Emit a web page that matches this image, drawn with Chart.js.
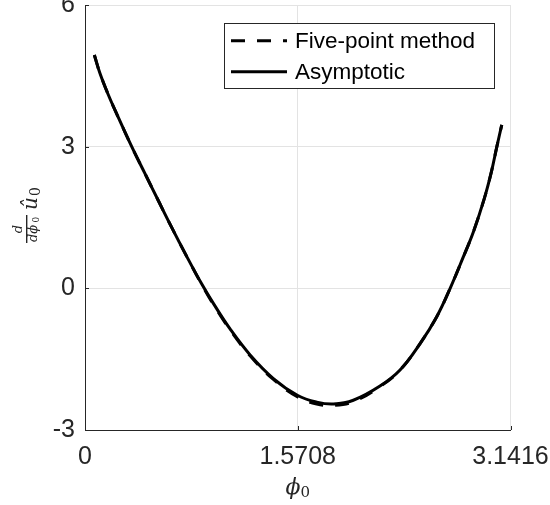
<!DOCTYPE html>
<html>
<head>
<meta charset="utf-8">
<script src="https://cdn.jsdelivr.net/npm/chart.js@4.4.1/dist/chart.umd.min.js"></script>
<style>
html,body{margin:0;padding:0;background:#fff;}
#wrap{width:550px;height:505px;position:relative;}
</style>
</head>
<body>
<div id="wrap"><canvas id="c" width="550" height="505"></canvas></div>
<script>
// ---- data ----
const seriesLabels = ['Five-point method', 'Asymptotic'];
const phi = [0.069, 0.111, 0.172, 0.246, 0.345, 0.443, 0.541, 0.640, 0.739, 0.860, 0.950, 1.071, 1.219, 1.391, 1.571, 1.711, 1.834, 1.981, 2.178, 2.326, 2.474, 2.597, 2.696, 2.794, 2.868, 2.948, 3.000, 3.040, 3.077];
const asymptotic = [4.94, 4.55, 4.10, 3.62, 3.00, 2.43, 1.86, 1.29, 0.74, 0.10, -0.33, -0.86, -1.41, -1.91, -2.27, -2.41, -2.45, -2.37, -2.07, -1.73, -1.17, -0.60, 0.00, 0.67, 1.20, 1.90, 2.46, 2.99, 3.46];
const fivePoint  = [4.94, 4.55, 4.10, 3.62, 3.00, 2.43, 1.86, 1.29, 0.74, 0.09, -0.35, -0.88, -1.43, -1.93, -2.30, -2.45, -2.48, -2.40, -2.08, -1.73, -1.17, -0.60, 0.00, 0.67, 1.20, 1.90, 2.46, 2.99, 3.46];
const xTickValues = [0, 1.5708, 3.1416];
const xTickLabels = ['0', '1.5708', '3.1416'];
const yTickValues = [-3, 0, 3, 6];
const yTickLabels = ['-3', '0', '3', '6'];

const toPts = ys => phi.map((x, i) => ({x: x, y: ys[i]}));

const AXIS = '#262626';
const GRID = '#e3e3e3';

const decorations = {
  id: 'decorations',
  afterDraw(chart) {
    const ctx = chart.ctx;
    const xs = chart.scales.x, ys = chart.scales.y;
    const a = chart.chartArea;
    ctx.save();
    // inward ticks
    ctx.strokeStyle = AXIS;
    ctx.lineWidth = 1;
    ctx.beginPath();
    yTickValues.forEach(v => {
      const y = Math.round(ys.getPixelForValue(v)) + 0.5;
      ctx.moveTo(a.left, y); ctx.lineTo(a.left + 4, y);
    });
    xTickValues.forEach(v => {
      const x = Math.round(xs.getPixelForValue(v)) + 0.5;
      ctx.moveTo(x, a.bottom); ctx.lineTo(x, a.bottom - 4);
    });
    ctx.stroke();

    // legend box
    const lx = 224, ly = 23, lw = 270, lh = 65;
    ctx.fillStyle = '#fff';
    ctx.fillRect(lx, ly, lw, lh);
    ctx.strokeStyle = AXIS;
    ctx.lineWidth = 1;
    ctx.strokeRect(lx + 0.5, ly + 0.5, lw, lh);
    chart.data.datasets.forEach((ds, i) => {
      const yy = 40.7 + i * 31;
      ctx.strokeStyle = ds.borderColor;
      ctx.lineWidth = ds.borderWidth;
      ctx.setLineDash(ds.borderDash || []);
      ctx.beginPath();
      ctx.moveTo(231, yy); ctx.lineTo(287, yy);
      ctx.stroke();
      ctx.setLineDash([]);
      ctx.fillStyle = '#000';
      ctx.font = '22.5px "Liberation Sans", Arial, sans-serif';
      ctx.textAlign = 'left';
      ctx.textBaseline = 'middle';
      ctx.fillText(ds.label, 295, yy + 1);
    });

    // x axis title  (phi_0)
    ctx.fillStyle = '#262626';
    ctx.textBaseline = 'alphabetic';
    ctx.textAlign = 'left';
    ctx.font = 'italic 22px "DejaVu Serif", serif';
    ctx.fillText('\u03D5', 285.5, 494);
    ctx.font = '15px "DejaVu Serif", serif';
    ctx.fillText('0', 300.5, 497);

    // y axis title  d/dphi_0 \hat{u}_0  (rotated)
    ctx.translate(26.7, 229);
    ctx.rotate(-Math.PI / 2);
    ctx.strokeStyle = '#262626';
    ctx.lineWidth = 1.4;
    ctx.beginPath();
    ctx.moveTo(-14, 0); ctx.lineTo(14, 0);
    ctx.stroke();
    ctx.textAlign = 'center';
    ctx.font = 'italic 13px "DejaVu Serif", serif';
    ctx.fillText('d', 0, -4.5);
    ctx.textAlign = 'left';
    ctx.font = 'italic 13px "DejaVu Serif", serif';
    ctx.fillText('d\u03D5', -13, 10);
    ctx.font = '9px "DejaVu Serif", serif';
    ctx.fillText('0', 6.5, 12);
    ctx.font = 'italic 20px "DejaVu Serif", serif';
    ctx.fillText('\u00FB', 19, 10);
    ctx.font = '14px "DejaVu Serif", serif';
    ctx.fillText('0', 33, 13);
    ctx.restore();
  }
};

new Chart(document.getElementById('c'), {
  type: 'line',
  data: {
    datasets: [
      { label: seriesLabels[0], data: toPts(fivePoint), borderColor: '#000', borderWidth: 3,
        borderDash: [14, 12], pointRadius: 0, tension: 0.4, fill: false, order: 2 },
      { label: seriesLabels[1], data: toPts(asymptotic), borderColor: '#000', borderWidth: 3,
        pointRadius: 0, tension: 0.4, fill: false, order: 1 }
    ]
  },
  options: {
    responsive: false,
    animation: false,
    devicePixelRatio: 1,
    layout: { padding: { top: 5, right: 39.5, left: 0, bottom: 0 } },
    plugins: { legend: { display: false }, tooltip: { enabled: false } },
    scales: {
      x: {
        type: 'linear', min: 0, max: Math.PI,
        afterBuildTicks: s => { s.ticks = xTickValues.map(v => ({value: v})); },
        afterFit: s => { s.height = 75; s.paddingLeft = 0; s.paddingRight = 0; },
        ticks: {
          callback: (v, i) => xTickLabels[i],
          font: { family: '"Liberation Sans", Arial, sans-serif', size: 25 },
          color: '#262626', padding: 12, maxRotation: 0, autoSkip: false
        },
        grid: { color: GRID, drawTicks: false, tickLength: 0 },
        border: { color: AXIS, width: 1 }
      },
      y: {
        type: 'linear', min: -3, max: 6,
        afterBuildTicks: s => { s.ticks = yTickValues.map(v => ({value: v})); },
        afterFit: s => { s.width = 85; s.paddingTop = 0; s.paddingBottom = 0; },
        ticks: {
          callback: (v, i) => yTickLabels[i],
          font: { family: '"Liberation Sans", Arial, sans-serif', size: 25 },
          color: '#262626', padding: 10, autoSkip: false
        },
        grid: { color: GRID, drawTicks: false, tickLength: 0 },
        border: { color: AXIS, width: 1 }
      }
    }
  },
  plugins: [decorations]
});
</script>
</body>
</html>
